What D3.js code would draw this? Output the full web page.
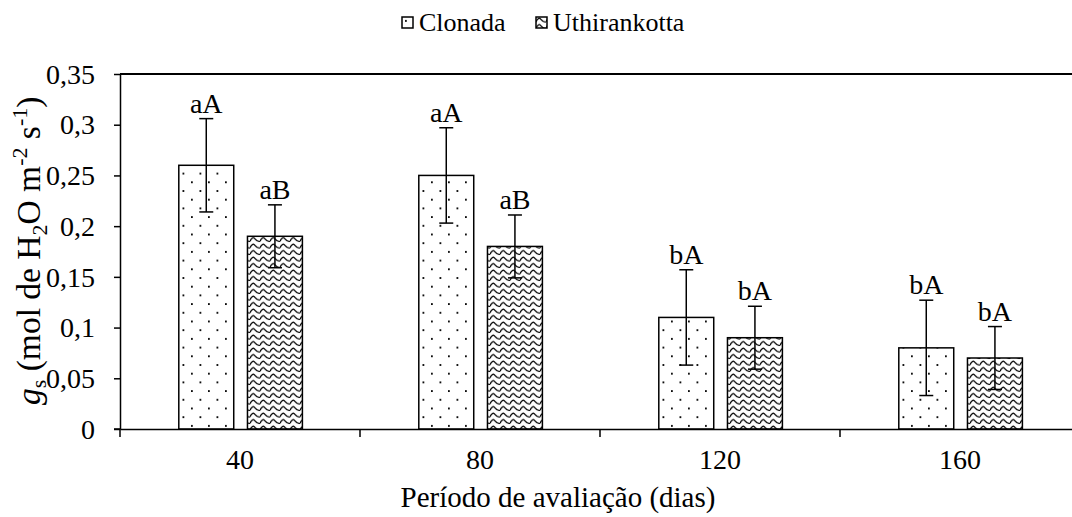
<!DOCTYPE html>
<html>
<head>
<meta charset="utf-8">
<script src="https://cdn.jsdelivr.net/npm/d3@7"></script>
<style>
  body { margin: 0; background: #fff; }
</style>
</head>
<body>
<div class="chart"></div>
<script>
const periods = ['40', '80', '120', '160'];
const series = ['Clonada', 'Uthirankotta'];
const clonada = [0.26, 0.25, 0.11, 0.08];
const uthirankotta = [0.19, 0.18, 0.09, 0.07];
const clonadaErr = [0.046, 0.047, 0.047, 0.047];
const uthirankottaErr = [0.031, 0.031, 0.031, 0.031];
const clonadaLetters = ['aA', 'aA', 'bA', 'bA'];
const uthirankottaLetters = ['aB', 'aB', 'bA', 'bA'];
const yTicks = [0, 0.05, 0.1, 0.15, 0.2, 0.25, 0.3, 0.35];

const FONT = '"Liberation Serif", "Times New Roman", serif';
const W = 1072, H = 517;
const margin = {top: 74, right: -8, bottom: 88, left: 120};
const width = W - margin.left - margin.right;
const height = H - margin.top - margin.bottom;

const svg = d3.select('.chart').append('svg')
  .attr('width', W)
  .attr('height', H)
  .style('font-family', FONT);

// patterns
const defs = svg.append('defs');
const dots = defs.append('pattern')
  .attr('id', 'dots')
  .attr('patternUnits', 'userSpaceOnUse')
  .attr('width', 17).attr('height', 17.4);
dots.append('rect').attr('width', 17).attr('height', 17.4).attr('fill', '#fff');
dots.append('rect').attr('x', 3).attr('y', 3).attr('width', 1.8).attr('height', 1.8).attr('fill', '#000');
dots.append('rect').attr('x', 11.5).attr('y', 11.7).attr('width', 1.8).attr('height', 1.8).attr('fill', '#000');

const waves = defs.append('pattern')
  .attr('id', 'waves')
  .attr('patternUnits', 'userSpaceOnUse')
  .attr('width', 10).attr('height', 6.5);
waves.append('rect').attr('width', 10).attr('height', 6.5).attr('fill', '#fff');
waves.append('path')
  .attr('d', 'M0,4.8 Q2.5,-0.8 5,2.4 T10,4.8')
  .attr('fill', 'none').attr('stroke', '#000').attr('stroke-width', 1.3);

const fills = {Clonada: 'url(#dots)', Uthirankotta: 'url(#waves)'};

const g = svg.append('g')
  .attr('transform', 'translate(' + margin.left + ',' + margin.top + ')');

const x0 = d3.scaleBand().domain(periods).range([0, width]).padding(0);
const x1 = d3.scaleBand().domain(series)
  .range([x0.bandwidth() * 0.245, x0.bandwidth() * 0.76])
  .paddingInner(0.2);
const y = d3.scaleLinear().domain([0, 0.35]).range([height, 0]);

const fmt = d => String(d).replace('.', ',');

// y axis
const yAxis = g.append('g')
  .call(d3.axisLeft(y).tickValues(yTicks).tickSize(6).tickPadding(19).tickSizeOuter(0).tickFormat(fmt));
yAxis.select('.domain').attr('stroke-width', 1.5);
yAxis.selectAll('.tick line').attr('stroke-width', 1.5);
yAxis.selectAll('.tick text')
  .style('font-size', '28px')
  .style('font-family', FONT)
  .attr('dy', '0.33em');

// top border
g.append('line')
  .attr('x1', 0).attr('x2', width)
  .attr('y1', 0).attr('y2', 0)
  .attr('stroke', '#000').attr('stroke-width', 1.8);

// data rows
const rows = periods.map((p, i) => ({
  period: p,
  bars: [
    {key: 'Clonada', value: clonada[i], err: clonadaErr[i], label: clonadaLetters[i]},
    {key: 'Uthirankotta', value: uthirankotta[i], err: uthirankottaErr[i], label: uthirankottaLetters[i]}
  ]
}));

const groups = g.selectAll('.group')
  .data(rows)
  .enter().append('g')
  .attr('class', 'group')
  .attr('transform', d => 'translate(' + x0(d.period) + ',0)');

const bar = groups.selectAll('.bar')
  .data(d => d.bars)
  .enter().append('g')
  .attr('class', 'bar');

bar.append('rect')
  .attr('x', d => x1(d.key))
  .attr('y', d => y(d.value))
  .attr('width', x1.bandwidth())
  .attr('height', d => height - y(d.value))
  .attr('fill', d => fills[d.key])
  .attr('stroke', '#000')
  .attr('stroke-width', 1.5);

// error bars
const cx = d => x1(d.key) + x1.bandwidth() / 2;
bar.append('line')
  .attr('x1', cx).attr('x2', cx)
  .attr('y1', d => y(d.value + d.err))
  .attr('y2', d => y(d.value - d.err))
  .attr('stroke', '#000').attr('stroke-width', 1.5);
bar.append('line')
  .attr('x1', d => cx(d) - 7).attr('x2', d => cx(d) + 7)
  .attr('y1', d => y(d.value + d.err)).attr('y2', d => y(d.value + d.err))
  .attr('stroke', '#000').attr('stroke-width', 1.5);
bar.append('line')
  .attr('x1', d => cx(d) - 7).attr('x2', d => cx(d) + 7)
  .attr('y1', d => y(d.value - d.err)).attr('y2', d => y(d.value - d.err))
  .attr('stroke', '#000').attr('stroke-width', 1.5);

bar.append('text')
  .attr('x', cx)
  .attr('y', d => y(d.value + d.err) - 6)
  .attr('text-anchor', 'middle')
  .style('font-size', '28px')
  .text(d => d.label);

// x axis
const xAxis = g.append('g')
  .attr('transform', 'translate(0,' + height + ')')
  .call(d3.axisBottom(x0).tickSize(0).tickSizeOuter(0));
xAxis.select('.domain').attr('stroke-width', 1.5);
xAxis.selectAll('.tick text')
  .style('font-size', '28px')
  .style('font-family', FONT)
  .attr('dy', 0).attr('y', 40);
xAxis.selectAll('.sep')
  .data(periods)
  .enter().append('line')
  .attr('class', 'sep')
  .attr('x1', d => x0(d)).attr('x2', d => x0(d))
  .attr('y1', 0).attr('y2', 8)
  .attr('stroke', '#000').attr('stroke-width', 1.5);
// left extension of x axis over the y tick
g.append('line')
  .attr('x1', -6).attr('x2', 0)
  .attr('y1', height).attr('y2', height)
  .attr('stroke', '#000').attr('stroke-width', 1.5);

// axis titles
svg.append('text')
  .attr('x', 558).attr('y', 507)
  .attr('text-anchor', 'middle')
  .style('font-size', '29px')
  .text('Período de avaliação (dias)');

const yt = svg.append('text')
  .attr('transform', 'translate(40,405) rotate(-90)')
  .attr('text-anchor', 'start')
  .style('font-size', '33.5px');
yt.append('tspan').style('font-style', 'italic').text('g');
yt.append('tspan').attr('dy', 6).style('font-size', '22px').text('s');
yt.append('tspan').attr('dy', -6).text(' (mol de H');
yt.append('tspan').attr('dy', 7).style('font-size', '22px').text('2');
yt.append('tspan').attr('dy', -7).text('O m');
yt.append('tspan').attr('dy', -13).style('font-size', '22px').text('-2');
yt.append('tspan').attr('dy', 13).text(' s');
yt.append('tspan').attr('dy', -13).style('font-size', '22px').text('-1');
yt.append('tspan').attr('dy', 13).text(')');

// legend
const legend = svg.append('g').attr('transform', 'translate(402,17)');
const items = [{key: 'Clonada', x: 0}, {key: 'Uthirankotta', x: 134}];
const li = legend.selectAll('.leg')
  .data(items)
  .enter().append('g')
  .attr('transform', d => 'translate(' + d.x + ',0)');
li.append('rect')
  .attr('x', 0).attr('y', 0).attr('width', 11).attr('height', 11)
  .attr('fill', d => fills[d.key])
  .attr('stroke', '#000').attr('stroke-width', 1.5);
li.append('text')
  .attr('x', 17).attr('y', 14)
  .style('font-size', '26px')
  .text(d => d.key);
</script>
</body>
</html>
